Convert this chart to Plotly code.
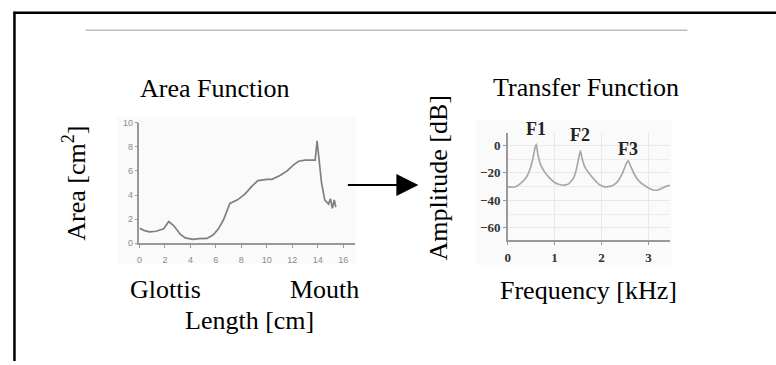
import plotly.graph_objects as go

W, H = 776, 365

# ---- Area function (left panel) ----
length_cm = [0.0, 0.4, 0.8, 1.3, 1.9, 2.3, 2.7, 3.2, 3.6, 4.2, 4.7, 5.3, 5.8, 6.2, 6.6,
             7.1, 7.7, 8.3, 8.8, 9.3, 10.0, 10.4, 11.0, 11.6, 12.1, 12.5, 13.0, 13.8,
             13.95, 14.05, 14.3, 14.55, 14.7, 14.85, 15.0, 15.15, 15.3, 15.42]
area_cm2 = [1.25, 1.05, 0.95, 1.0, 1.2, 1.8, 1.45, 0.75, 0.45, 0.33, 0.38, 0.4, 0.7, 1.2, 1.95,
            3.3, 3.6, 4.1, 4.7, 5.2, 5.3, 5.3, 5.6, 6.0, 6.5, 6.8, 6.9, 6.9,
            8.5, 7.6, 5.0, 3.6, 3.4, 3.25, 3.7, 2.9, 3.6, 3.0]
area_xticks = [0, 2, 4, 6, 8, 10, 12, 14, 16]
area_yticks = [0, 2, 4, 6, 8, 10]

# ---- Transfer function (right panel) ----
freq_khz = [0.00, 0.10, 0.20, 0.30, 0.40, 0.48, 0.54, 0.58, 0.61, 0.64, 0.70, 0.80, 0.90,
            1.00, 1.10, 1.20, 1.30, 1.40, 1.46, 1.51, 1.55, 1.59, 1.65, 1.75, 1.85, 1.95,
            2.05, 2.15, 2.25, 2.35, 2.45, 2.52, 2.57, 2.62, 2.70, 2.80, 2.95, 3.10, 3.20,
            3.30, 3.40, 3.47]
amp_db = [-30, -30.5, -29.5, -27, -23, -17, -9, -2, 1, -6, -14, -20, -24,
          -27, -28.5, -29, -28, -24, -18, -10, -4, -10, -16, -21, -25, -28.5,
          -30, -30, -29, -26, -20, -14, -11, -15, -21, -26, -30, -32.5, -32.5,
          -31, -29.5, -29]
amp_xticks = [0, 1, 2, 3]
amp_yticks = [-60, -40, -20, 0]
formant_names = ["F1", "F2", "F3"]
formant_freq = [0.61, 1.55, 2.57]
formant_amp = [1, -4, -11]
formant_label_shift = [15, 16, 12]   # px above the peak (style only)


def px(x):
    return x / W


def py(y):
    return 1 - y / H


fig = go.Figure()
fig.add_trace(go.Scatter(x=length_cm, y=area_cm2, mode="lines",
                         line=dict(color="#7f7f7f", width=1.7),
                         xaxis="x", yaxis="y", showlegend=False, hoverinfo="skip"))
fig.add_trace(go.Scatter(x=freq_khz, y=amp_db, mode="lines",
                         line=dict(color="#a8a8a8", width=1.7, shape="spline", smoothing=0.4),
                         xaxis="x2", yaxis="y2", showlegend=False, hoverinfo="skip"))

serif = "Liberation Serif, Times New Roman, serif"
left_tick_font = dict(family="Liberation Sans, Arial, sans-serif", size=9, color="#8a8a8a")
right_tick_font = dict(family=serif, size=13, color="#333333", weight="bold")

fig.update_layout(
    width=W, height=H,
    margin=dict(l=0, r=0, t=0, b=0),
    paper_bgcolor="white", plot_bgcolor="rgba(0,0,0,0)",
    xaxis=dict(domain=[px(137), px(353)], range=[0, 16.9], tickvals=area_xticks,
               ticks="outside", ticklen=3, tickcolor="#999", showline=True,
               linecolor="#999", linewidth=1.5, showgrid=False, zeroline=False,
               tickfont=left_tick_font, ticklabelstandoff=4, anchor="y", fixedrange=True),
    yaxis=dict(domain=[py(245), py(121)], range=[0, 10], tickvals=area_yticks,
               ticks="outside", ticklen=3, tickcolor="#999", showline=True,
               linecolor="#999", linewidth=1.5, showgrid=False, zeroline=False,
               tickfont=left_tick_font, anchor="x", fixedrange=True),
    xaxis2=dict(domain=[px(506.7), px(670)], range=[0, 3.47], tickvals=amp_xticks,
                ticks="outside", ticklen=3, tickcolor="#999", showline=True,
                linecolor="#999", linewidth=1.5, showgrid=True, gridcolor="#e8e8e8",
                zeroline=False, tickfont=right_tick_font, ticklabelstandoff=2,
                anchor="y2", fixedrange=True),
    yaxis2=dict(domain=[py(241.7), py(131.7)], range=[-69, 9], tickvals=amp_yticks,
                ticks="outside", ticklen=3, tickcolor="#999", showline=True,
                linecolor="#999", linewidth=1.5, showgrid=True, gridcolor="#e8e8e8",
                minor=dict(dtick=10, showgrid=True, gridcolor="#ececec"),
                zeroline=False, tickfont=right_tick_font, anchor="x2", fixedrange=True),
)

# faint backgrounds of the two pasted panels
fig.add_shape(type="rect", xref="paper", yref="paper", layer="below",
              x0=px(115), x1=px(354), y0=py(266), y1=py(115),
              fillcolor="#fafafa", line=dict(width=0))
fig.add_shape(type="rect", xref="paper", yref="paper", layer="below",
              x0=px(475), x1=px(671), y0=py(267), y1=py(118),
              fillcolor="#fafafa", line=dict(width=0))

# frame lines and top rule
fig.add_shape(type="line", xref="paper", yref="paper", x0=px(11.5), x1=px(11.5),
              y0=py(7), y1=py(366), line=dict(color="black", width=2.5))
fig.add_shape(type="line", xref="paper", yref="paper", x0=px(10.5), x1=px(777),
              y0=py(8), y1=py(8), line=dict(color="black", width=2.5))
fig.add_shape(type="line", xref="paper", yref="paper", x0=px(83), x1=px(687),
              y0=py(26), y1=py(26), line=dict(color="#bdbdbd", width=1.5))

txt = dict(family=serif, size=26, color="black")
labels = [
    ("Area Function", 212, 86, 0),
    ("Transfer Function", 585, 85, 0),
    ("Glottis", 163.5, 292, 0),
    ("Mouth", 322.5, 292, 0),
    ("Length [cm]", 247, 324, 0),
    ("Frequency [kHz]", 588, 294, 0),
    ("Area [cm<sup>2</sup>]", 72, 183, -90),
    ("Amplitude [dB]", 437, 178, -90),
]
for t, x, y, ang in labels:
    fig.add_annotation(text=t, x=px(x), y=py(y), xref="paper", yref="paper",
                       xanchor="center", yanchor="middle", showarrow=False,
                       textangle=ang, font=txt)

for name, f, a, s in zip(formant_names, formant_freq, formant_amp, formant_label_shift):
    fig.add_annotation(text=f"<b>{name}</b>", x=f, y=a, xref="x2", yref="y2",
                       yanchor="middle", yshift=s, showarrow=False,
                       font=dict(family=serif, size=18, color="#222"))

# arrow between panels
fig.add_annotation(x=px(417), y=py(185), xref="paper", yref="paper",
                   ax=-72, ay=0, axref="pixel", ayref="pixel",
                   text="", showarrow=True, arrowhead=2, arrowsize=2.2,
                   arrowwidth=2, arrowcolor="black")

fig.write_html("out.html")
